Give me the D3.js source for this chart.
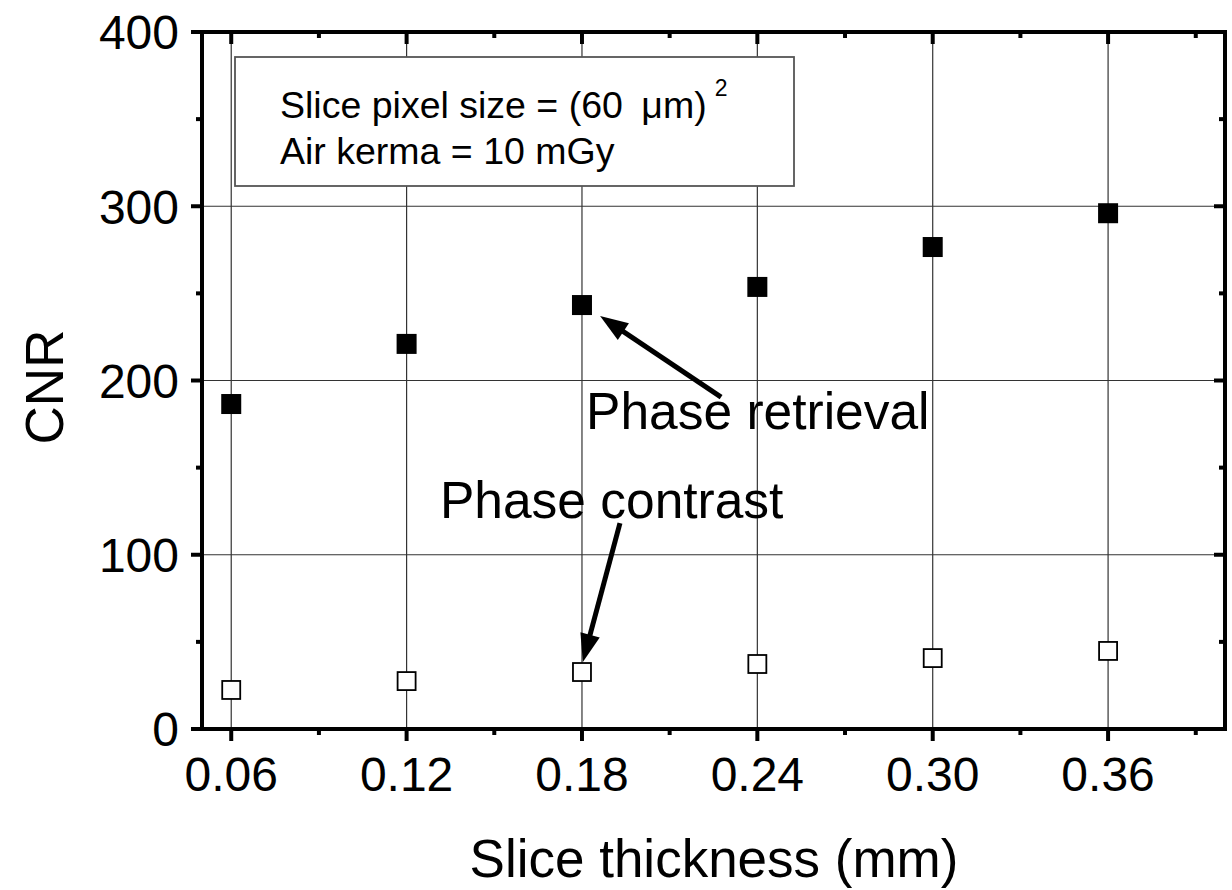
<!DOCTYPE html>
<html lang="en">
<head>
  <meta charset="UTF-8">
  <title>CNR vs slice thickness</title>
  <script src="https://cdn.jsdelivr.net/npm/d3@7"></script>
  <style>
    body { margin: 0; background: #fff; }
    svg { display: block; font-family: "Liberation Sans", Arial, sans-serif; }
  </style>
</head>
<body>
  <script>
    // data
    const thickness = [0.06, 0.12, 0.18, 0.24, 0.30, 0.36];
    const phaseRetrieval = [186.5, 221, 243.3, 253.7, 276.6, 296];
    const phaseContrast = [22.4, 27.5, 32.7, 37.3, 40.7, 44.8];
    const xTicks = [0.06, 0.12, 0.18, 0.24, 0.30, 0.36];
    const xMinor = [0.09, 0.15, 0.21, 0.27, 0.33, 0.39];
    const yTicks = [0, 100, 200, 300, 400];
    const yMinor = [50, 150, 250, 350];

    const width = 1232, height = 890;
    const plotL = 202, plotR = 1225, plotT = 32, plotB = 729;

    const x = d3.scaleLinear().domain([0.05, 0.40]).range([plotL, plotR]);
    const y = d3.scaleLinear().domain([0, 400]).range([plotB, plotT]);

    const svg = d3.create("svg")
        .attr("width", width)
        .attr("height", height)
        .attr("viewBox", [0, 0, width, height]);

    // grid
    const grid = svg.append("g")
        .attr("stroke", "#333")
        .attr("stroke-width", 1.2);
    grid.selectAll("line.v")
      .data(xTicks)
      .join("line")
        .attr("class", "v")
        .attr("x1", d => x(d)).attr("x2", d => x(d))
        .attr("y1", plotT).attr("y2", plotB);
    grid.selectAll("line.h")
      .data(yTicks.slice(1, -1))
      .join("line")
        .attr("class", "h")
        .attr("x1", plotL).attr("x2", plotR)
        .attr("y1", d => y(d)).attr("y2", d => y(d));

    // legend box
    const lg = svg.append("g");
    lg.append("rect")
        .attr("x", 235).attr("y", 57)
        .attr("width", 559).attr("height", 129)
        .attr("fill", "#fff")
        .attr("stroke", "#555")
        .attr("stroke-width", 1.8);
    const lt = lg.append("text")
        .attr("font-size", 37.5)
        .attr("fill", "#000");
    const l1 = lt.append("tspan").attr("x", 280).attr("y", 118);
    l1.append("tspan").text("Slice pixel size = (60 ");
    l1.append("tspan").attr("dx", 8).text("\u03bcm)");
    l1.append("tspan").attr("dx", 8).attr("dy", -22).attr("font-size", 23).text("2");
    lt.append("tspan").attr("x", 280).attr("y", 164).text("Air kerma = 10 mGy");

    // axes: bottom/left ticks outward, top/right ticks inward
    const axisG = svg.append("g").attr("fill", "none").attr("stroke", "#000");
    axisG.append("rect")
        .attr("x", plotL).attr("y", plotT)
        .attr("width", plotR - plotL).attr("height", plotB - plotT)
        .attr("stroke-width", 4);

    const ticksX = xTicks.map(v => ({v, len: 12})).concat(xMinor.map(v => ({v, len: 6})));
    const ticksY = yTicks.map(v => ({v, len: 11})).concat(yMinor.map(v => ({v, len: 6})));

    axisG.selectAll("line.bx").data(ticksX).join("line")
        .attr("class", "bx")
        .attr("x1", d => x(d.v)).attr("x2", d => x(d.v))
        .attr("y1", plotB).attr("y2", d => plotB + d.len)
        .attr("stroke-width", 4);
    axisG.selectAll("line.tx").data(ticksX).join("line")
        .attr("class", "tx")
        .attr("x1", d => x(d.v)).attr("x2", d => x(d.v))
        .attr("y1", plotT).attr("y2", d => plotT + d.len)
        .attr("stroke-width", 4);
    axisG.selectAll("line.ly").data(ticksY).join("line")
        .attr("class", "ly")
        .attr("x1", d => plotL - d.len).attr("x2", plotL)
        .attr("y1", d => y(d.v)).attr("y2", d => y(d.v))
        .attr("stroke-width", 4);
    axisG.selectAll("line.ry").data(ticksY).join("line")
        .attr("class", "ry")
        .attr("x1", d => plotR - d.len).attr("x2", plotR)
        .attr("y1", d => y(d.v)).attr("y2", d => y(d.v))
        .attr("stroke-width", 4);

    // tick labels
    svg.append("g")
        .attr("font-size", 48)
        .attr("text-anchor", "middle")
      .selectAll("text")
      .data(xTicks)
      .join("text")
        .attr("x", d => x(d))
        .attr("y", plotB + 62)
        .text(d => d.toFixed(2));
    svg.append("g")
        .attr("font-size", 48)
        .attr("text-anchor", "end")
      .selectAll("text")
      .data(yTicks)
      .join("text")
        .attr("x", plotL - 23)
        .attr("y", d => y(d))
        .attr("dy", "0.36em")
        .text(d => d);

    // axis titles
    svg.append("text")
        .attr("x", 714).attr("y", 877)
        .attr("font-size", 53)
        .attr("text-anchor", "middle")
        .text("Slice thickness (mm)");
    svg.append("text")
        .attr("transform", "translate(63,387) rotate(-90)")
        .attr("font-size", 53)
        .attr("text-anchor", "middle")
        .text("CNR");

    // markers
    const s = 18;
    svg.append("g")
      .selectAll("rect")
      .data(thickness.map((t, i) => [t, phaseContrast[i]]))
      .join("rect")
        .attr("x", d => x(d[0]) - s / 2)
        .attr("y", d => y(d[1]) - s / 2)
        .attr("width", s).attr("height", s)
        .attr("fill", "#fff")
        .attr("stroke", "#000")
        .attr("stroke-width", 1.8);
    svg.append("g")
      .selectAll("rect")
      .data(thickness.map((t, i) => [t, phaseRetrieval[i]]))
      .join("rect")
        .attr("x", d => x(d[0]) - (s + 2) / 2)
        .attr("y", d => y(d[1]) - (s + 2) / 2)
        .attr("width", s + 2).attr("height", s + 2)
        .attr("fill", "#000");

    // annotations
    const notes = [
      {text: "Phase retrieval", tx: 0.1814, ty: 172.2, from: [0.2276, 190.5], to: [0.1862, 237]},
      {text: "Phase contrast", tx: 0.1314, ty: 121.1, from: [0.193, 118.2], to: [0.1803, 38.5]}
    ];
    const ann = svg.append("g");
    notes.forEach(n => {
      const x1 = x(n.from[0]), y1 = y(n.from[1]);
      const x2 = x(n.to[0]), y2 = y(n.to[1]);
      const a = Math.atan2(y2 - y1, x2 - x1);
      const hl = 28, hw = 10;
      const bx = x2 - hl * Math.cos(a), by = y2 - hl * Math.sin(a);
      ann.append("line")
          .attr("x1", x1).attr("y1", y1)
          .attr("x2", bx + 4 * Math.cos(a)).attr("y2", by + 4 * Math.sin(a))
          .attr("stroke", "#000").attr("stroke-width", 5);
      ann.append("path")
          .attr("d", `M${x2},${y2}L${bx - hw * Math.sin(a)},${by + hw * Math.cos(a)}L${bx + hw * Math.sin(a)},${by - hw * Math.cos(a)}Z`)
          .attr("fill", "#000");
      ann.append("text")
          .attr("x", x(n.tx)).attr("y", y(n.ty))
          .attr("font-size", 51.5)
          .text(n.text);
    });

    document.body.appendChild(svg.node());
  </script>
</body>
</html>
